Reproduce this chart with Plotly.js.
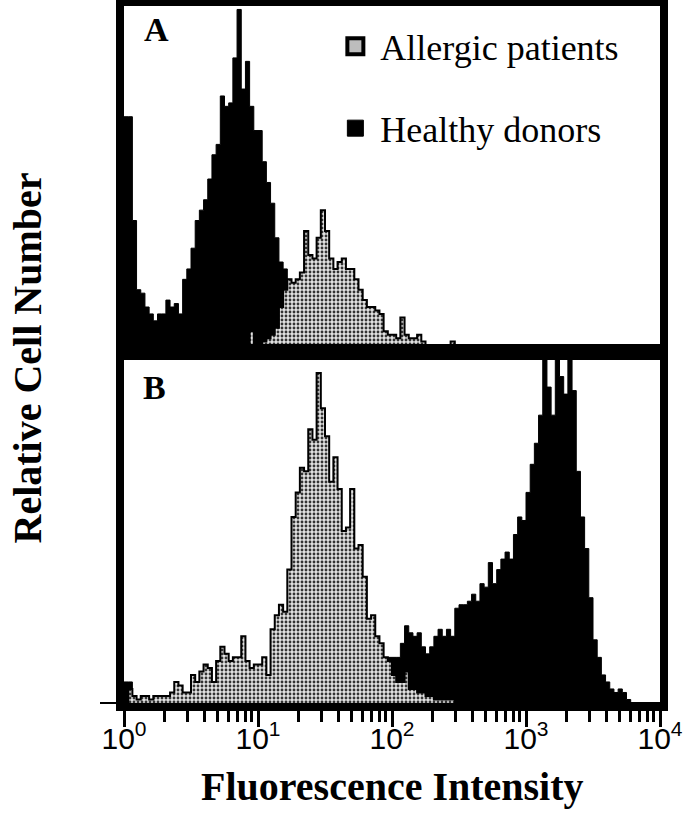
<!DOCTYPE html>
<html>
<head>
<meta charset="utf-8">
<script src="https://cdn.plot.ly/plotly-3.0.1.min.js"></script>
<style>
  body { margin: 0; background: #fff; }
  #plot { width: 685px; height: 814px; }
</style>
</head>
<body>
<div id="plot"></div>
<script>
// log channels, 32 per decade over 4 decades
var CHANNELS = 128;
var DECADES = 4;

// panel A, relative cell counts per channel
var healthyA = [
  68,68,38,18,17,13,11,9,11,11,15,13,14,11,21,24,
  30,38,41,44,50,57,60,74,71,72,85,99,76,84,71,64,
  64,55,49,43,33,26,24,21,18,15,12,10,8,6,5,4,
  3,2,2,1,1,0,0,0,0,0,0,0,0,0,0,0,
  0,0,0,0,0,0,0,0,0,0,0,0,0,0,0,0,
  0,0,0,0,0,0,0,0,0,0,0,0,0,0,0,0,
  0,0,0,0,0,0,0,0,0,0,0,0,0,0,0,0,
  0,0,0,0,0,0,0,0,0,0,0,0,0,0,0,0
];
var allergicA = [
  0,0,0,0,0,0,0,0,0,0,0,0,0,0,0,0,
  0,0,0,0,0,0,0,0,0,0,0,0,0,0,6,2,
  2,3,4,5,7,13,18,21,20,21,23,35,28,27,33,41,
  35,27,24,26,27,24,24,21,18,15,13,13,12,11,6,5,
  5,4,10,5,4,4,5,3,2,1,1,1,1,0,3,0,
  0,0,0,0,0,0,0,0,0,0,0,0,0,0,0,0,
  0,0,0,0,0,0,0,0,0,0,0,0,0,0,0,0,
  0,0,0,0,0,0,0,0,0,0,0,0,0,0,0,0
];

// panel B
var healthyB = [
  6,6,0,0,0,0,0,0,0,0,0,0,0,0,0,0,
  0,0,0,0,0,0,0,0,0,0,0,0,0,0,0,0,
  0,0,0,0,0,0,0,0,0,0,0,0,0,0,0,0,
  0,0,1,1,2,2,3,3,4,5,6,7,8,10,12,13,
  13,13,17,22,20,19,20,16,14,16,19,21,19,21,19,27,
  28,28,29,31,29,34,33,40,34,38,41,43,41,48,53,52,
  60,68,74,82,104,90,82,104,93,88,104,89,66,53,44,30,
  18,13,8,6,4,3,4,3,1,0,0,0,0,0,0,0
];
var allergicB = [
  0,4,2,1,2,2,1,2,2,2,2,3,6,5,3,3,
  8,6,9,11,10,6,12,16,14,12,13,13,19,12,10,11,
  11,13,8,21,25,28,26,38,53,60,67,66,78,75,94,84,
  76,63,70,61,49,50,61,44,45,36,24,25,19,17,13,12,
  8,6,6,9,4,4,3,3,2,2,1,1,1,1,1,0,
  0,0,0,0,0,0,0,0,0,0,0,0,0,0,0,0,
  0,0,0,0,0,0,0,0,0,0,0,0,0,0,0,0,
  0,0,0,0,0,0,0,0,0,0,0,0,0,0,0,0
];

var tickVals = [1, 10, 100, 1000, 10000];
var tickText = ['10<sup>0</sup>', '10<sup>1</sup>', '10<sup>2</sup>', '10<sup>3</sup>', '10<sup>4</sup>'];
var minorVals = [];
for (var d = 0; d < DECADES; d++) {
  for (var m = 2; m <= 9; m++) minorVals.push(m * Math.pow(10, d));
}

// left edge of every channel plus the closing edge at 10^4
var edges = [];
for (var i = 0; i <= CHANNELS; i++) edges.push(Math.pow(10, i * DECADES / CHANNELS));

function stepY(arr) { return arr.concat([0]); }

var SERIF = 'Liberation Serif, Times New Roman, serif';
var NARROW = 'Liberation Sans Narrow, Arial Narrow, Liberation Sans, sans-serif';

var stipple = {shape: '.', fgcolor: '#333333', bgcolor: '#e2e2e2', size: 4, solidity: 0.4};

var traceHA = {
  x: edges, y: stepY(healthyA), xaxis: 'x', yaxis: 'y',
  type: 'scatter', mode: 'lines', line: {shape: 'hv', color: 'black', width: 1},
  fill: 'tozeroy', fillcolor: 'black', showlegend: false, hoverinfo: 'skip'
};
var traceAA = {
  x: edges, y: stepY(allergicA), xaxis: 'x', yaxis: 'y',
  type: 'scatter', mode: 'lines', line: {shape: 'hv', color: 'black', width: 2},
  fill: 'tozeroy', fillcolor: '#c4c4c4', fillpattern: stipple,
  showlegend: false, hoverinfo: 'skip'
};
var traceHB = {
  x: edges, y: stepY(healthyB), xaxis: 'x2', yaxis: 'y2',
  type: 'scatter', mode: 'lines', line: {shape: 'hv', color: 'black', width: 1},
  fill: 'tozeroy', fillcolor: 'black', showlegend: false, hoverinfo: 'skip'
};
var traceAB = {
  x: edges, y: stepY(allergicB), xaxis: 'x2', yaxis: 'y2',
  type: 'scatter', mode: 'lines', line: {shape: 'hv', color: 'black', width: 2},
  fill: 'tozeroy', fillcolor: '#c4c4c4', fillpattern: stipple,
  showlegend: false, hoverinfo: 'skip'
};

// legend-only entries (square swatches)
var legAllergic = {
  x: [null], y: [null], type: 'scatter', mode: 'markers', name: 'Allergic patients',
  legendgroup: 'a',
  marker: {symbol: 'square', size: 20, color: '#bdbdbd', line: {color: 'black', width: 4}}
};
var legHealthy = {
  x: [null], y: [null], type: 'scatter', mode: 'markers', name: 'Healthy donors',
  legendgroup: 'h',
  marker: {symbol: 'square', size: 20, color: 'black', line: {color: 'black', width: 1}}
};

var data = [traceHA, traceAA, traceHB, traceAB, legAllergic, legHealthy];

var split = 0.5036;
var frame = {showline: true, mirror: true, linewidth: 8, linecolor: 'black',
             showgrid: false, zeroline: false};

var layout = {
  width: 685, height: 814,
  margin: {l: 124, r: 25, t: 6, b: 111},
  paper_bgcolor: 'white', plot_bgcolor: 'white',
  showlegend: true,
  legend: {
    x: 0.385, y: 0.985, xanchor: 'left', yanchor: 'top',
    bgcolor: 'rgba(0,0,0,0)', traceorder: 'grouped', tracegroupgap: 32,
    itemwidth: 40, itemsizing: 'trace',
    font: {family: SERIF, size: 36, color: 'black'}
  },
  xaxis: Object.assign({}, frame, {
    type: 'log', range: [0, DECADES], anchor: 'y', domain: [0, 1],
    ticks: '', showticklabels: false
  }),
  yaxis: Object.assign({}, frame, {
    domain: [split, 1], range: [0, 100], anchor: 'x',
    ticks: '', showticklabels: false
  }),
  xaxis2: Object.assign({}, frame, {
    type: 'log', range: [0, DECADES], anchor: 'y2', domain: [0, 1],
    tickmode: 'array', tickvals: tickVals, ticktext: tickText,
    ticks: 'outside', ticklen: 16, tickwidth: 3, tickcolor: 'black',
    ticklabelstandoff: -14,
    minor: {tickmode: 'array', tickvals: minorVals, ticks: 'outside', ticklen: 11, tickwidth: 3, tickcolor: 'black'},
    tickfont: {family: NARROW, size: 30, color: 'black'}
  }),
  yaxis2: Object.assign({}, frame, {
    domain: [0, split], range: [0, 100], anchor: 'x2',
    tickmode: 'array', tickvals: [0], ticks: 'outside', ticklen: 16, tickwidth: 2,
    tickcolor: 'black', showticklabels: false
  }),
  annotations: [
    {text: '<b>A</b>', xref: 'paper', yref: 'paper', x: 0.061, y: 0.966,
     xanchor: 'center', yanchor: 'middle', showarrow: false,
     font: {family: SERIF, size: 34, color: 'black'}},
    {text: '<b>B</b>', xref: 'paper', yref: 'paper', x: 0.056, y: 0.453,
     xanchor: 'center', yanchor: 'middle', showarrow: false,
     font: {family: SERIF, size: 34, color: 'black'}},
    {text: '<b>Relative Cell Number</b>', xref: 'paper', yref: 'paper',
     x: -0.18, y: 0.495, xanchor: 'center', yanchor: 'middle', textangle: -90,
     showarrow: false, font: {family: SERIF, size: 40, color: 'black'}},
    {text: '<b>Fluorescence Intensity</b>', xref: 'paper', yref: 'paper',
     x: 0.5, y: -0.12, xanchor: 'center', yanchor: 'middle',
     showarrow: false, font: {family: SERIF, size: 40, color: 'black'}}
  ]
};

Plotly.newPlot('plot', data, layout, {displayModeBar: false, staticPlot: true});
</script>
</body>
</html>
